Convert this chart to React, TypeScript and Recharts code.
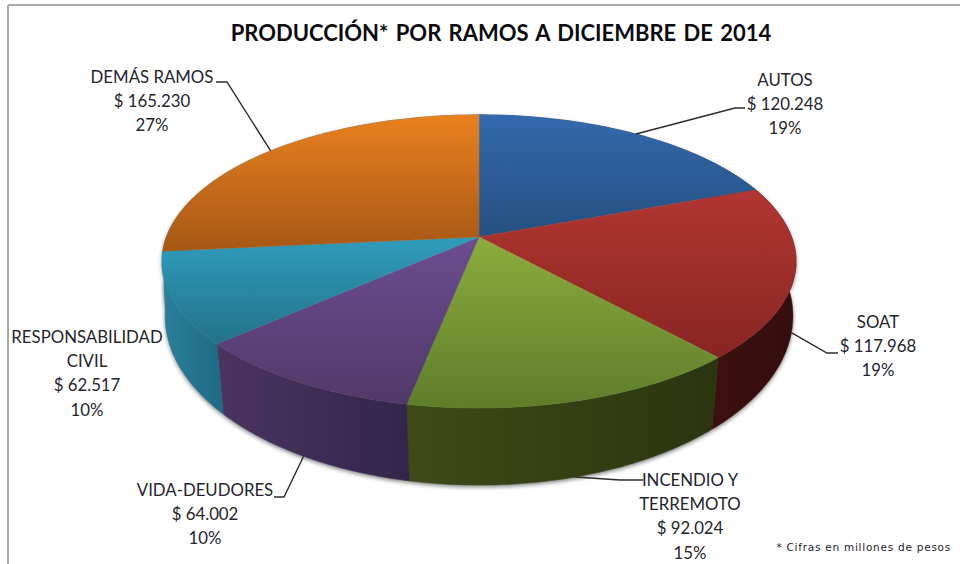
import { PieChart, Pie } from "recharts";

const categories = ["AUTOS", "SOAT", "INCENDIO Y TERREMOTO", "VIDA-DEUDORES", "RESPONSABILIDAD CIVIL", "DEMÁS RAMOS"];
const values = [120248, 117968, 92024, 64002, 62517, 165230];
const labelNames = [["AUTOS"], ["SOAT"], ["INCENDIO Y", "TERREMOTO"], ["VIDA-DEUDORES"], ["RESPONSABILIDAD", "CIVIL"], ["DEMÁS RAMOS"]];

const topLight = ["#3369AE", "#B23631", "#8CAC3D", "#6C4D91", "#2F9CBC", "#E9801F"];
const topDark = ["#25507F", "#872523", "#5F7D2A", "#513969", "#24728A", "#A65816"];
// the orange wall only shows as a sliver next to the teal one, so it takes the teal colour
const wallLeft = ["#1E3A5F", "#3D1110", "#3F4B17", "#4A3561", "#2A7F9A", "#2A7F9A"];
const wallRight = ["#1E3A5F", "#330D0C", "#2A3510", "#33254A", "#1F6A84", "#2A7F9A"];

// label layout: centre x, first line y
const labelX = [785, 878, 690, 205, 87, 152];
const labelY = [79, 321, 479, 489, 336, 76];
// leader line: bend point, end point
const leaders = [
  [735, 108, 745, 108],
  [827, 353, 838, 353],
  [620, 480, 643, 480],
  [284, 497, 274, 497],
  null,
  [227, 82, 216, 82],
];

const total = values.reduce((a, b) => a + b, 0);
const data = categories.map((name, i) => ({ name, value: values[i] }));

const WIDTH = 960;
const HEIGHT = 564;
const CX = 479;
const CY = 237;
const RADIUS = 312.6;
const Y_SQUASH = 0.456;
const PERSPECTIVE = 1 / 6;
// bottom rim of the disc, relative to the top rim
const LOWER_PERSPECTIVE = 0.142;
const LOWER_X = 0.994;
const LOWER_Y = 0.53;
const LOWER_DROP = 55;

// recharts angle -> point on the tilted disc, with perspective
const project = (cx: number, cy: number, r: number, angle: number, lower = false) => {
  const t = ((90 - angle) * Math.PI) / 180;
  const u = Math.sin(t);
  const v = -Math.cos(t);
  if (lower) {
    const s = 1 / (1 - LOWER_PERSPECTIVE * v);
    return [cx + r * LOWER_X * u * s, cy + LOWER_DROP + r * LOWER_Y * v * s];
  }
  const s = 1 / (1 - PERSPECTIVE * v);
  return [cx + r * u * s, cy + r * Y_SQUASH * v * s];
};

const arc = (p: any, lower = false) => {
  const pts: number[][] = [];
  const steps = Math.max(2, Math.ceil(Math.abs(p.endAngle - p.startAngle)));
  for (let i = 0; i <= steps; i++) {
    const a = p.startAngle + ((p.endAngle - p.startAngle) * i) / steps;
    pts.push(project(p.cx, p.cy, p.outerRadius, a, lower));
  }
  return pts;
};

const toPath = (pts: number[][]) => "M" + pts.map((q) => q[0].toFixed(1) + "," + q[1].toFixed(1)).join("L") + "Z";

const wallPath = (p: any) => toPath([...arc(p), ...arc(p, true).reverse()]);

const indexOf = (p: any) => categories.indexOf(p.name ?? p.payload?.name);

const TopFace = (p: any) => {
  const fill = `url(#top${indexOf(p)})`;
  return <path d={toPath([[p.cx, p.cy], ...arc(p)])} fill={fill} stroke={fill} strokeWidth={0.5} />;
};

const Wall = (p: any) => {
  const fill = `url(#wall${indexOf(p)})`;
  return <path d={wallPath(p)} fill={fill} stroke={fill} strokeWidth={0.5} />;
};

const WallShadow = (p: any) => (
  <path d={wallPath(p)} fill="#555" opacity={0.75} transform="translate(0 2)" filter="url(#soft)" />
);

const money = (n: number) => "$ " + String(n).replace(/\B(?=(\d{3})+$)/g, ".");

const renderLabel = (p: any) => {
  const i = p.index;
  const lines = [...labelNames[i], money(values[i]), Math.round((values[i] / total) * 100) + "%"];
  const leader = leaders[i];
  const v = -Math.cos(((90 - p.midAngle) * Math.PI) / 180);
  const start = project(CX, CY, RADIUS, p.midAngle, v > 0);
  return (
    <g key={i}>
      {leader && (
        <polyline
          points={`${start[0]},${start[1]} ${leader[0]},${leader[1]} ${leader[2]},${leader[3]}`}
          fill="none"
          stroke="#2b2b2b"
          strokeWidth={1.4}
        />
      )}
      {lines.map((line, k) => (
        <text
          key={k}
          x={labelX[i]}
          y={labelY[i] + k * 24.4}
          textAnchor="middle"
          dominantBaseline="central"
          fontFamily="Lato"
          fontSize={16.8}
          fill="#25252e"
        >
          {line}
        </text>
      ))}
    </g>
  );
};

const App = () => {
  return (
    <div style={{ position: "absolute", left: 0, top: 0, width: WIDTH, height: HEIGHT, background: "#fff" }}>
      <PieChart width={WIDTH} height={HEIGHT} margin={{ top: 0, right: 0, bottom: 0, left: 0 }}>
        <defs>
          <filter id="soft" x="-10%" y="-10%" width="120%" height="120%">
            <feGaussianBlur stdDeviation={2} />
          </filter>
          {categories.map((_, i) => (
            <linearGradient key={i} id={`top${i}`} x1="0" y1="0" x2="0" y2="1">
              <stop offset="0%" stopColor={topLight[i]} />
              <stop offset="100%" stopColor={topDark[i]} />
            </linearGradient>
          ))}
          {categories.map((_, i) => (
            <linearGradient key={i} id={`wall${i}`} x1="0" y1="0" x2="1" y2="0">
              <stop offset="0%" stopColor={wallLeft[i]} />
              <stop offset="100%" stopColor={wallRight[i]} />
            </linearGradient>
          ))}
        </defs>
        <line x1={8} y1={5} x2={960} y2={5} stroke="#a9a9a9" strokeWidth={2} />
        <line x1={8} y1={5} x2={8} y2={564} stroke="#a9a9a9" strokeWidth={2} />
        <text x={501} y={32} textAnchor="middle" dominantBaseline="central" fontFamily="Lato" fontWeight={700} fontSize={22} wordSpacing={2} fill="#0c0c10">
          PRODUCCIÓN* POR RAMOS A DICIEMBRE DE 2014
        </text>
        <text x={951} y={547} textAnchor="end" dominantBaseline="central" fontFamily="DejaVu Sans" fontSize={10.5} letterSpacing={0.75} fill="#25252e">
          * Cifras en millones de pesos
        </text>
        <Pie data={data} dataKey="value" nameKey="name" cx={CX} cy={CY} outerRadius={RADIUS} startAngle={90} endAngle={-270} shape={WallShadow} label={false} labelLine={false} isAnimationActive={false} />
        <Pie data={data} dataKey="value" nameKey="name" cx={CX} cy={CY} outerRadius={RADIUS} startAngle={90} endAngle={-270} shape={Wall} label={false} labelLine={false} isAnimationActive={false} />
        <Pie data={data} dataKey="value" nameKey="name" cx={CX} cy={CY} outerRadius={RADIUS} startAngle={90} endAngle={-270} shape={TopFace} label={renderLabel} labelLine={false} isAnimationActive={false} />
      </PieChart>
    </div>
  );
};

export default App;
